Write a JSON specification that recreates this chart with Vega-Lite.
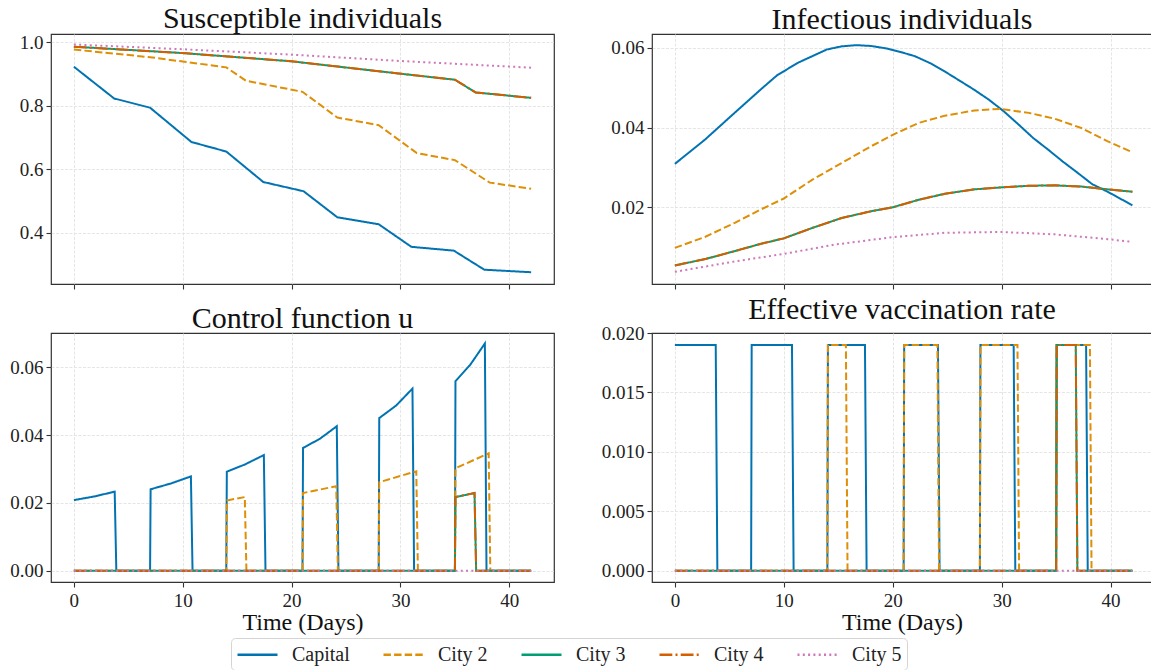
{
"$schema": "https://vega.github.io/schema/vega-lite/v6.json",
"background": "white",
"padding": {"left": 9, "top": 3, "right": 0, "bottom": 0},
"datasets": {"d": [
{"p":"S","c":"Capital","t":0,"v":0.923},{"p":"S","c":"Capital","t":3.7,"v":0.823},{"p":"S","c":"Capital","t":7.0,"v":0.794},{"p":"S","c":"Capital","t":10.8,"v":0.686},{"p":"S","c":"Capital","t":14.0,"v":0.656},{"p":"S","c":"Capital","t":17.4,"v":0.560},{"p":"S","c":"Capital","t":21.1,"v":0.531},{"p":"S","c":"Capital","t":24.2,"v":0.449},{"p":"S","c":"Capital","t":28.0,"v":0.427},{"p":"S","c":"Capital","t":31.0,"v":0.356},{"p":"S","c":"Capital","t":34.9,"v":0.344},{"p":"S","c":"Capital","t":37.7,"v":0.284},{"p":"S","c":"Capital","t":42,"v":0.276},
{"p":"S","c":"City 2","t":0,"v":0.977},{"p":"S","c":"City 2","t":7,"v":0.953},{"p":"S","c":"City 2","t":14,"v":0.921},{"p":"S","c":"City 2","t":15.8,"v":0.879},{"p":"S","c":"City 2","t":21,"v":0.844},{"p":"S","c":"City 2","t":24.2,"v":0.763},{"p":"S","c":"City 2","t":28,"v":0.739},{"p":"S","c":"City 2","t":31.5,"v":0.651},{"p":"S","c":"City 2","t":35,"v":0.629},{"p":"S","c":"City 2","t":38.2,"v":0.558},{"p":"S","c":"City 2","t":42,"v":0.539},
{"p":"S","c":"City 3","t":0,"v":0.986},{"p":"S","c":"City 3","t":10,"v":0.966},{"p":"S","c":"City 3","t":20,"v":0.940},{"p":"S","c":"City 3","t":30,"v":0.901},{"p":"S","c":"City 3","t":35,"v":0.882},{"p":"S","c":"City 3","t":36.9,"v":0.842},{"p":"S","c":"City 3","t":42,"v":0.825},
{"p":"S","c":"City 4","t":0,"v":0.986},{"p":"S","c":"City 4","t":10,"v":0.966},{"p":"S","c":"City 4","t":20,"v":0.940},{"p":"S","c":"City 4","t":30,"v":0.901},{"p":"S","c":"City 4","t":35,"v":0.882},{"p":"S","c":"City 4","t":36.9,"v":0.842},{"p":"S","c":"City 4","t":42,"v":0.825},
{"p":"S","c":"City 5","t":0,"v":0.993},{"p":"S","c":"City 5","t":10,"v":0.978},{"p":"S","c":"City 5","t":20,"v":0.961},{"p":"S","c":"City 5","t":30,"v":0.941},{"p":"S","c":"City 5","t":42,"v":0.920},
{"p":"I","c":"Capital","t":0,"v":0.0309},{"p":"I","c":"Capital","t":2.77,"v":0.0370},{"p":"I","c":"Capital","t":5.48,"v":0.0437},{"p":"I","c":"Capital","t":7.85,"v":0.0495},{"p":"I","c":"Capital","t":9.37,"v":0.0531},{"p":"I","c":"Capital","t":11.24,"v":0.0562},{"p":"I","c":"Capital","t":12.59,"v":0.0579},{"p":"I","c":"Capital","t":13.94,"v":0.0596},{"p":"I","c":"Capital","t":15.3,"v":0.0604},{"p":"I","c":"Capital","t":16.65,"v":0.0607},{"p":"I","c":"Capital","t":18.0,"v":0.0605},{"p":"I","c":"Capital","t":19.36,"v":0.0599},{"p":"I","c":"Capital","t":20.71,"v":0.0590},{"p":"I","c":"Capital","t":22.06,"v":0.0579},{"p":"I","c":"Capital","t":23.42,"v":0.0562},{"p":"I","c":"Capital","t":24.77,"v":0.0541},{"p":"I","c":"Capital","t":26.13,"v":0.0518},{"p":"I","c":"Capital","t":27.48,"v":0.0495},{"p":"I","c":"Capital","t":28.83,"v":0.0470},{"p":"I","c":"Capital","t":30.19,"v":0.0441},{"p":"I","c":"Capital","t":31.54,"v":0.0408},{"p":"I","c":"Capital","t":32.89,"v":0.0374},{"p":"I","c":"Capital","t":34.25,"v":0.0345},{"p":"I","c":"Capital","t":35.6,"v":0.0315},{"p":"I","c":"Capital","t":36.95,"v":0.0287},{"p":"I","c":"Capital","t":38.31,"v":0.0258},{"p":"I","c":"Capital","t":39.66,"v":0.0240},{"p":"I","c":"Capital","t":42,"v":0.0205},
{"p":"I","c":"City 2","t":0,"v":0.0098},{"p":"I","c":"City 2","t":2.8,"v":0.0126},{"p":"I","c":"City 2","t":5.5,"v":0.0161},{"p":"I","c":"City 2","t":7.85,"v":0.0194},{"p":"I","c":"City 2","t":10,"v":0.0222},{"p":"I","c":"City 2","t":12.6,"v":0.0269},{"p":"I","c":"City 2","t":15.3,"v":0.0311},{"p":"I","c":"City 2","t":18,"v":0.0353},{"p":"I","c":"City 2","t":20,"v":0.0382},{"p":"I","c":"City 2","t":22.4,"v":0.0412},{"p":"I","c":"City 2","t":24.8,"v":0.0430},{"p":"I","c":"City 2","t":27.5,"v":0.0443},{"p":"I","c":"City 2","t":29.8,"v":0.0447},{"p":"I","c":"City 2","t":32.5,"v":0.0437},{"p":"I","c":"City 2","t":34.9,"v":0.0422},{"p":"I","c":"City 2","t":37.3,"v":0.0399},{"p":"I","c":"City 2","t":39.7,"v":0.0366},{"p":"I","c":"City 2","t":42,"v":0.0338},
{"p":"I","c":"City 3","t":0,"v":0.0054},{"p":"I","c":"City 3","t":2.8,"v":0.0070},{"p":"I","c":"City 3","t":5.5,"v":0.0090},{"p":"I","c":"City 3","t":7.85,"v":0.0108},{"p":"I","c":"City 3","t":10,"v":0.0122},{"p":"I","c":"City 3","t":12.6,"v":0.0148},{"p":"I","c":"City 3","t":15.3,"v":0.0173},{"p":"I","c":"City 3","t":18,"v":0.0190},{"p":"I","c":"City 3","t":20,"v":0.0200},{"p":"I","c":"City 3","t":22.4,"v":0.0219},{"p":"I","c":"City 3","t":24.8,"v":0.0234},{"p":"I","c":"City 3","t":27.5,"v":0.0245},{"p":"I","c":"City 3","t":30,"v":0.0250},{"p":"I","c":"City 3","t":32.5,"v":0.0254},{"p":"I","c":"City 3","t":34.9,"v":0.0255},{"p":"I","c":"City 3","t":37.3,"v":0.0252},{"p":"I","c":"City 3","t":39.7,"v":0.0245},{"p":"I","c":"City 3","t":42,"v":0.0239},
{"p":"I","c":"City 4","t":0,"v":0.0054},{"p":"I","c":"City 4","t":2.8,"v":0.0070},{"p":"I","c":"City 4","t":5.5,"v":0.0090},{"p":"I","c":"City 4","t":7.85,"v":0.0108},{"p":"I","c":"City 4","t":10,"v":0.0122},{"p":"I","c":"City 4","t":12.6,"v":0.0148},{"p":"I","c":"City 4","t":15.3,"v":0.0173},{"p":"I","c":"City 4","t":18,"v":0.0190},{"p":"I","c":"City 4","t":20,"v":0.0200},{"p":"I","c":"City 4","t":22.4,"v":0.0219},{"p":"I","c":"City 4","t":24.8,"v":0.0234},{"p":"I","c":"City 4","t":27.5,"v":0.0245},{"p":"I","c":"City 4","t":30,"v":0.0250},{"p":"I","c":"City 4","t":32.5,"v":0.0254},{"p":"I","c":"City 4","t":34.9,"v":0.0255},{"p":"I","c":"City 4","t":37.3,"v":0.0252},{"p":"I","c":"City 4","t":39.7,"v":0.0245},{"p":"I","c":"City 4","t":42,"v":0.0239},
{"p":"I","c":"City 5","t":0,"v":0.0038},{"p":"I","c":"City 5","t":5.5,"v":0.0064},{"p":"I","c":"City 5","t":10,"v":0.0083},{"p":"I","c":"City 5","t":14.6,"v":0.0106},{"p":"I","c":"City 5","t":20,"v":0.0125},{"p":"I","c":"City 5","t":24.8,"v":0.0136},{"p":"I","c":"City 5","t":30,"v":0.0138},{"p":"I","c":"City 5","t":34.9,"v":0.0132},{"p":"I","c":"City 5","t":39.7,"v":0.0120},{"p":"I","c":"City 5","t":42,"v":0.0113},
{"p":"U","c":"Capital","t":0,"v":0.0208},{"p":"U","c":"Capital","t":1.9,"v":0.0219},{"p":"U","c":"Capital","t":3.75,"v":0.0233},{"p":"U","c":"Capital","t":3.9,"v":0},{"p":"U","c":"Capital","t":7.0,"v":0},{"p":"U","c":"Capital","t":7.05,"v":0.0240},{"p":"U","c":"Capital","t":8.9,"v":0.0257},{"p":"U","c":"Capital","t":10.75,"v":0.0278},{"p":"U","c":"Capital","t":10.9,"v":0},{"p":"U","c":"Capital","t":14.0,"v":0},{"p":"U","c":"Capital","t":14.05,"v":0.0292},{"p":"U","c":"Capital","t":15.7,"v":0.0313},{"p":"U","c":"Capital","t":17.45,"v":0.0341},{"p":"U","c":"Capital","t":17.6,"v":0},{"p":"U","c":"Capital","t":21.0,"v":0},{"p":"U","c":"Capital","t":21.05,"v":0.0362},{"p":"U","c":"Capital","t":22.6,"v":0.0389},{"p":"U","c":"Capital","t":24.15,"v":0.0426},{"p":"U","c":"Capital","t":24.3,"v":0},{"p":"U","c":"Capital","t":28.0,"v":0},{"p":"U","c":"Capital","t":28.05,"v":0.0450},{"p":"U","c":"Capital","t":29.6,"v":0.0487},{"p":"U","c":"Capital","t":31.1,"v":0.0537},{"p":"U","c":"Capital","t":31.25,"v":0},{"p":"U","c":"Capital","t":35.0,"v":0},{"p":"U","c":"Capital","t":35.05,"v":0.0559},{"p":"U","c":"Capital","t":36.4,"v":0.0607},{"p":"U","c":"Capital","t":37.75,"v":0.0670},{"p":"U","c":"Capital","t":37.9,"v":0},{"p":"U","c":"Capital","t":42,"v":0},
{"p":"U","c":"City 2","t":0,"v":0},{"p":"U","c":"City 2","t":14.0,"v":0},{"p":"U","c":"City 2","t":14.05,"v":0.0207},{"p":"U","c":"City 2","t":15.7,"v":0.0217},{"p":"U","c":"City 2","t":15.85,"v":0},{"p":"U","c":"City 2","t":21.0,"v":0},{"p":"U","c":"City 2","t":21.05,"v":0.0229},{"p":"U","c":"City 2","t":24.1,"v":0.0249},{"p":"U","c":"City 2","t":24.25,"v":0},{"p":"U","c":"City 2","t":28.0,"v":0},{"p":"U","c":"City 2","t":28.05,"v":0.0261},{"p":"U","c":"City 2","t":31.45,"v":0.0293},{"p":"U","c":"City 2","t":31.6,"v":0},{"p":"U","c":"City 2","t":35.0,"v":0},{"p":"U","c":"City 2","t":35.05,"v":0.0302},{"p":"U","c":"City 2","t":38.1,"v":0.0346},{"p":"U","c":"City 2","t":38.25,"v":0},{"p":"U","c":"City 2","t":42,"v":0},
{"p":"U","c":"City 3","t":0,"v":0},{"p":"U","c":"City 3","t":35.0,"v":0},{"p":"U","c":"City 3","t":35.05,"v":0.0217},{"p":"U","c":"City 3","t":36.8,"v":0.0229},{"p":"U","c":"City 3","t":36.95,"v":0},{"p":"U","c":"City 3","t":42,"v":0},
{"p":"U","c":"City 4","t":0,"v":0},{"p":"U","c":"City 4","t":35.0,"v":0},{"p":"U","c":"City 4","t":35.05,"v":0.0217},{"p":"U","c":"City 4","t":36.8,"v":0.0229},{"p":"U","c":"City 4","t":36.95,"v":0},{"p":"U","c":"City 4","t":42,"v":0},
{"p":"U","c":"City 5","t":0,"v":0},{"p":"U","c":"City 5","t":42,"v":0},
{"p":"E","c":"Capital","t":0,"v":0.019},{"p":"E","c":"Capital","t":3.75,"v":0.019},{"p":"E","c":"Capital","t":3.9,"v":0},{"p":"E","c":"Capital","t":7.0,"v":0},{"p":"E","c":"Capital","t":7.05,"v":0.019},{"p":"E","c":"Capital","t":10.75,"v":0.019},{"p":"E","c":"Capital","t":10.9,"v":0},{"p":"E","c":"Capital","t":14.0,"v":0},{"p":"E","c":"Capital","t":14.05,"v":0.019},{"p":"E","c":"Capital","t":17.45,"v":0.019},{"p":"E","c":"Capital","t":17.6,"v":0},{"p":"E","c":"Capital","t":21.0,"v":0},{"p":"E","c":"Capital","t":21.05,"v":0.019},{"p":"E","c":"Capital","t":24.15,"v":0.019},{"p":"E","c":"Capital","t":24.3,"v":0},{"p":"E","c":"Capital","t":28.0,"v":0},{"p":"E","c":"Capital","t":28.05,"v":0.019},{"p":"E","c":"Capital","t":31.1,"v":0.019},{"p":"E","c":"Capital","t":31.25,"v":0},{"p":"E","c":"Capital","t":35.0,"v":0},{"p":"E","c":"Capital","t":35.05,"v":0.019},{"p":"E","c":"Capital","t":37.75,"v":0.019},{"p":"E","c":"Capital","t":37.9,"v":0},{"p":"E","c":"Capital","t":42,"v":0},
{"p":"E","c":"City 2","t":0,"v":0},{"p":"E","c":"City 2","t":14.0,"v":0},{"p":"E","c":"City 2","t":14.05,"v":0.019},{"p":"E","c":"City 2","t":15.7,"v":0.019},{"p":"E","c":"City 2","t":15.85,"v":0},{"p":"E","c":"City 2","t":21.0,"v":0},{"p":"E","c":"City 2","t":21.05,"v":0.019},{"p":"E","c":"City 2","t":24.1,"v":0.019},{"p":"E","c":"City 2","t":24.25,"v":0},{"p":"E","c":"City 2","t":28.0,"v":0},{"p":"E","c":"City 2","t":28.05,"v":0.019},{"p":"E","c":"City 2","t":31.45,"v":0.019},{"p":"E","c":"City 2","t":31.6,"v":0},{"p":"E","c":"City 2","t":35.0,"v":0},{"p":"E","c":"City 2","t":35.05,"v":0.019},{"p":"E","c":"City 2","t":38.1,"v":0.019},{"p":"E","c":"City 2","t":38.25,"v":0},{"p":"E","c":"City 2","t":42,"v":0},
{"p":"E","c":"City 3","t":0,"v":0},{"p":"E","c":"City 3","t":35.0,"v":0},{"p":"E","c":"City 3","t":35.05,"v":0.019},{"p":"E","c":"City 3","t":36.8,"v":0.019},{"p":"E","c":"City 3","t":36.95,"v":0},{"p":"E","c":"City 3","t":42,"v":0},
{"p":"E","c":"City 4","t":0,"v":0},{"p":"E","c":"City 4","t":35.0,"v":0},{"p":"E","c":"City 4","t":35.05,"v":0.019},{"p":"E","c":"City 4","t":36.8,"v":0.019},{"p":"E","c":"City 4","t":36.95,"v":0},{"p":"E","c":"City 4","t":42,"v":0},
{"p":"E","c":"City 5","t":0,"v":0},{"p":"E","c":"City 5","t":42,"v":0}
]},
"data": {"name": "d"},
"config": {
  "font": "Liberation Serif",
  "view": {"stroke": "#333333", "strokeWidth": 1.2},
  "axis": {"domain": false, "grid": true, "gridColor": "#e2e2e2", "gridDash": [3, 1.5], "gridWidth": 0.9, "tickColor": "#333333", "tickSize": 5, "tickWidth": 1.1, "labelFont": "Liberation Serif", "labelFontSize": 19, "labelColor": "#222222", "titleFont": "Liberation Serif", "titleFontSize": 24, "titleFontWeight": "normal", "titleColor": "#111111"},
  "axisX": {"labelPadding": 4, "titlePadding": 0},
  "axisY": {"labelPadding": 3},
  "title": {"font": "Liberation Serif", "fontSize": 30, "fontWeight": "normal", "color": "#111111", "offset": -1, "baseline": "alphabetic", "anchor": "middle"},
  "legend": {"orient": "none", "legendX": 180, "legendY": 604, "direction": "horizontal", "columns": 5, "symbolType": "M-1,0H3", "symbolSize": 400, "symbolStrokeWidth": 2.5, "labelFont": "Liberation Serif", "labelFontSize": 20, "labelColor": "#222222", "labelOffset": 33, "columnPadding": 28, "padding": 5, "strokeColor": "#d5d5d5", "fillColor": "white", "cornerRadius": 4}
},
"columns": 2,
"spacing": {"row": 49, "column": 98},
"bounds": "flush",
"concat": [
{
  "title": "Susceptible individuals",
  "width": 503, "height": 250,
  "transform": [{"filter": "datum.p === 'S'"}],
  "mark": {"type": "line", "strokeWidth": 2, "clip": true},
  "encoding": {
    "x": {"field": "t", "type": "quantitative", "scale": {"domain": [-2.1, 44.1], "nice": false, "zero": false}, "axis": {"values": [0, 10, 20, 30, 40], "labels": false, "title": null}},
    "y": {"field": "v", "type": "quantitative", "scale": {"domain": [0.239, 1.026], "nice": false, "zero": false}, "axis": {"values": [0.4, 0.6, 0.8, 1.0], "format": ".1f", "title": null}},
    "color": {"field": "c", "type": "nominal", "scale": {"domain": ["Capital", "City 2", "City 3", "City 4", "City 5"], "range": ["#0173b2", "#de8f05", "#029e73", "#d55e00", "#cc78bc"]}, "legend": {"title": null}},
    "strokeDash": {"field": "c", "type": "nominal", "scale": {"domain": ["Capital", "City 2", "City 3", "City 4", "City 5"], "range": [[1, 0], [7.4, 3.2], [1, 0], [12.8, 3.2, 2, 3.2], [2, 3.3]]}, "legend": {"title": null}}
  }
},
{
  "title": "Infectious individuals",
  "width": 500, "height": 250,
  "transform": [{"filter": "datum.p === 'I'"}],
  "mark": {"type": "line", "strokeWidth": 2, "clip": true},
  "encoding": {
    "x": {"field": "t", "type": "quantitative", "scale": {"domain": [-2.1, 43.8], "nice": false, "zero": false}, "axis": {"values": [0, 10, 20, 30, 40], "labels": false, "title": null}},
    "y": {"field": "v", "type": "quantitative", "scale": {"domain": [0.00074, 0.0635], "nice": false, "zero": false}, "axis": {"values": [0.02, 0.04, 0.06], "format": ".2f", "title": null}},
    "color": {"field": "c", "type": "nominal", "scale": {"domain": ["Capital", "City 2", "City 3", "City 4", "City 5"], "range": ["#0173b2", "#de8f05", "#029e73", "#d55e00", "#cc78bc"]}, "legend": {"title": null}},
    "strokeDash": {"field": "c", "type": "nominal", "scale": {"domain": ["Capital", "City 2", "City 3", "City 4", "City 5"], "range": [[1, 0], [7.4, 3.2], [1, 0], [12.8, 3.2, 2, 3.2], [2, 3.3]]}, "legend": {"title": null}}
  }
},
{
  "title": "Control function u",
  "width": 503, "height": 249,
  "transform": [{"filter": "datum.p === 'U'"}],
  "mark": {"type": "line", "strokeWidth": 2, "clip": true},
  "encoding": {
    "x": {"field": "t", "type": "quantitative", "scale": {"domain": [-2.1, 44.1], "nice": false, "zero": false}, "axis": {"values": [0, 10, 20, 30, 40], "format": "d", "title": "Time (Days)"}},
    "y": {"field": "v", "type": "quantitative", "scale": {"domain": [-0.00335, 0.0701], "nice": false, "zero": false}, "axis": {"values": [0, 0.02, 0.04, 0.06], "format": ".2f", "title": null}},
    "color": {"field": "c", "type": "nominal", "scale": {"domain": ["Capital", "City 2", "City 3", "City 4", "City 5"], "range": ["#0173b2", "#de8f05", "#029e73", "#d55e00", "#cc78bc"]}, "legend": {"title": null}},
    "strokeDash": {"field": "c", "type": "nominal", "scale": {"domain": ["Capital", "City 2", "City 3", "City 4", "City 5"], "range": [[1, 0], [7.4, 3.2], [1, 0], [12.8, 3.2, 2, 3.2], [2, 3.3]]}, "legend": {"title": null}}
  }
},
{
  "title": "Effective vaccination rate",
  "width": 500, "height": 249,
  "transform": [{"filter": "datum.p === 'E'"}],
  "mark": {"type": "line", "strokeWidth": 2, "clip": true},
  "encoding": {
    "x": {"field": "t", "type": "quantitative", "scale": {"domain": [-2.1, 43.8], "nice": false, "zero": false}, "axis": {"values": [0, 10, 20, 30, 40], "format": "d", "title": "Time (Days)"}},
    "y": {"field": "v", "type": "quantitative", "scale": {"domain": [-0.00095, 0.02], "nice": false, "zero": false}, "axis": {"values": [0, 0.005, 0.01, 0.015, 0.02], "format": ".3f", "title": null, "gridOpacity": {"condition": {"test": "datum.value >= 0.0199", "value": 0}, "value": 1}}},
    "color": {"field": "c", "type": "nominal", "scale": {"domain": ["Capital", "City 2", "City 3", "City 4", "City 5"], "range": ["#0173b2", "#de8f05", "#029e73", "#d55e00", "#cc78bc"]}, "legend": {"title": null}},
    "strokeDash": {"field": "c", "type": "nominal", "scale": {"domain": ["Capital", "City 2", "City 3", "City 4", "City 5"], "range": [[1, 0], [7.4, 3.2], [1, 0], [12.8, 3.2, 2, 3.2], [2, 3.3]]}, "legend": {"title": null}}
  }
}
]
}
